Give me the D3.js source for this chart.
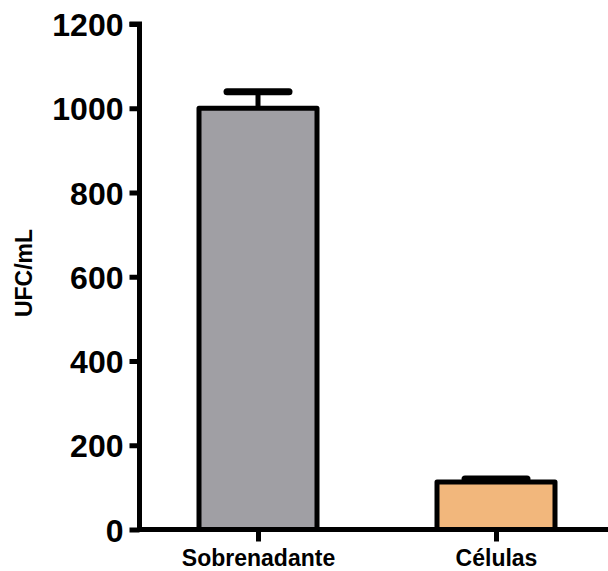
<!DOCTYPE html>
<html>
<head>
<meta charset="utf-8">
<script src="https://cdn.jsdelivr.net/npm/d3@7"></script>
<style>
  body { margin: 0; background: #fff; }
  text { font-family: "Liberation Sans", Arial, sans-serif; font-weight: bold; }
</style>
</head>
<body>
<svg id="chart" width="608" height="571"></svg>
<script>
// data
var categories = ["Sobrenadante", "Células"]
var values = [1000, 113]
var errors = [39, 7]
var colors = ["#a09fa4", "#f2b77c"]
var yTicks = [0, 200, 400, 600, 800, 1000, 1200]

var svg = d3.select("#chart")
var axLeft = 139.5, axBottom = 529.5, axTop = 24, axRight = 612

var y = d3.scaleLinear().domain([0, 1200]).range([axBottom, axTop])
var x = d3.scalePoint().domain(categories).range([258, 496])
var barW = 118

// bars
svg.selectAll("rect.bar").data(categories).enter().append("rect")
    .attr("class", "bar")
    .attr("x", d => x(d) - barW / 2)
    .attr("y", (d, i) => y(values[i]))
    .attr("width", barW)
    .attr("height", (d, i) => axBottom - y(values[i]))
    .attr("fill", (d, i) => colors[i])
    .attr("stroke", "#000")
    .attr("stroke-width", 5)
    .attr("stroke-linejoin", "round")

// error bars (upper only)
categories.forEach((c, i) => {
    var cx = x(c)
    var capW = 62
    svg.append("line")
        .attr("x1", cx).attr("x2", cx)
        .attr("y1", y(values[i])).attr("y2", y(values[i] + errors[i]))
        .attr("stroke", "#000").attr("stroke-width", 5)
    svg.append("line")
        .attr("x1", cx - capW / 2).attr("x2", cx + capW / 2)
        .attr("y1", y(values[i] + errors[i])).attr("y2", y(values[i] + errors[i]))
        .attr("stroke", "#000").attr("stroke-width", 7).attr("stroke-linecap", "round")
})

// y axis
var yAxis = svg.append("g").attr("transform", "translate(" + axLeft + ",0)")
    .call(d3.axisLeft(y).tickValues(yTicks).tickFormat(d3.format("d")).tickSize(10).tickPadding(6))
yAxis.select(".domain").attr("d", "M-10," + axTop + "H0V" + axBottom).attr("stroke-width", 5)
yAxis.selectAll(".tick line").attr("stroke-width", 5)
yAxis.selectAll(".tick text").style("font-size", "32px").attr("fill", "#000").attr("dy", "0.36em")

// x axis
var xAxis = svg.append("g").attr("transform", "translate(0," + axBottom + ")")
    .call(d3.axisBottom(x).tickSize(12).tickPadding(8))
xAxis.select(".domain").attr("d", "M" + (axLeft - 2.5) + ",0H" + axRight).attr("stroke-width", 5)
xAxis.selectAll(".tick line").attr("stroke-width", 5)
xAxis.selectAll(".tick text").style("font-size", "23px").attr("fill", "#000")

// y axis title
svg.append("text")
    .attr("transform", "translate(32,273) rotate(-90)")
    .attr("text-anchor", "middle")
    .style("font-size", "23px")
    .text("UFC/mL")
</script>
</body>
</html>
